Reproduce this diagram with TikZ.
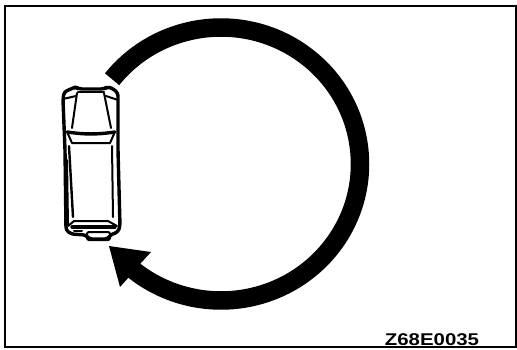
\documentclass[tikz,border=0pt]{standalone}
\usepackage{fontspec}
\setmainfont{Liberation Sans}

\begin{document}
\begin{tikzpicture}[
  x=1pt, y=-1pt,
  frameline/.style={line width=1.4pt},
  bodyline/.style={line width=3.4pt, line join=round, line cap=round},
  thinline/.style={line width=2pt, line join=round, line cap=round},
  pathband/.style={line width=18.5pt},
]
  \useasboundingbox (0,0) rectangle (517,349);

  % frame
  \draw[frameline] (5,6) -- (516,6) -- (516,347) -- (5,347) -- cycle;

  % circular path
  \coordinate (O) at (221,164);
  \draw[pathband] (O) ++(-141.6:139 and 136.5)
    arc[start angle=-141.6, end angle=133, x radius=139, y radius=136.5];

  % arrow head
  \coordinate (T) at (109,246);
  \coordinate (P) at (151,252);
  \coordinate (Q) at (120,287);
  \fill (T) -- (P) -- (141,263) -- (129,277) -- (Q) -- cycle;

  % car outline
  \draw[bodyline, rounded corners=3pt] (63,100) -- (64,92) -- (73,88) -- (76,87) -- (79,89)
    -- (104,89) -- (107,87) -- (112,88) -- (118,93)
    -- (118,150) -- (120,226) -- (118,232) -- (110,235) -- (108,239) -- (89,239) -- (86,235)
    -- (71,234) -- (66,230) -- (65,150) -- cycle;

  % windscreen
  \draw[thinline] (77,93) -- (72,128);
  \draw[thinline] (104,93) -- (111,128);
  \draw[thinline] (78,92) -- (104,92);
  \draw[thinline] (63,99) -- (76,96);
  \draw[thinline] (106,96) -- (118,100);

  % roof bar
  \draw[bodyline] (67,132) to[out=-8,in=-172] (115,132);
  \draw[thinline] (68,134) -- (72,143) -- (110,143) -- (114,134);

  % sides
  \draw[bodyline, line width=2.4pt] (69,146) -- (73,217);
  \draw[thinline] (112,146) -- (113,217);
  \draw[thinline] (67,160) -- (68,225);

  % tail
  \draw[thinline] (68,226) -- (74,221) -- (108,221) -- (117,226);
  \draw[bodyline] (72,227) -- (115,227);
  \draw[thinline] (74,231) -- (82,231);
  \draw[thinline, rounded corners=2pt] (87,232) rectangle (110,240);

  % drawing number
  \node[font=\fontsize{17}{17}\selectfont\bfseries, xscale=1.2] (code) at (432,340) {Z68E0035};
\end{tikzpicture}
\end{document}
